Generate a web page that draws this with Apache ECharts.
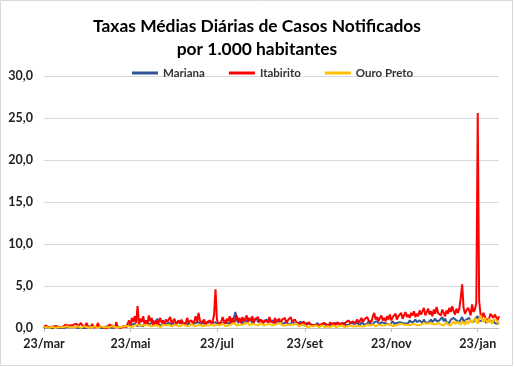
<!DOCTYPE html>
<html>
<head>
<meta charset="utf-8">
<script src="https://cdn.jsdelivr.net/npm/echarts@6/dist/echarts.min.js"></script>
<style>html,body{margin:0;padding:0;background:#fff}#c{width:514px;height:367px}</style>
</head>
<body>
<div id="c"></div>
<script>
const startDate = [2020, 3, 23];
const dayCount = 322;
const monthNames = ['jan','fev','mar','abr','mai','jun','jul','ago','set','out','nov','dez'];
const tickLabels = ['23/mar','23/mai','23/jul','23/set','23/nov','23/jan'];
const seriesNames = ['Mariana','Itabirito','Ouro Preto'];

const mariana = [
0.0,0.0,0.1,0.0,0.0,0.1,0.0,0.0,0.1,0.0,
0.0,0.1,0.0,0.1,0.0,0.0,0.1,0.0,0.1,0.0,
0.1,0.0,0.1,0.2,0.0,0.1,0.0,0.1,0.0,0.1,
0.0,0.1,0.2,0.0,0.1,0.0,0.1,0.0,0.2,0.1,
0.0,0.1,0.0,0.1,0.2,0.0,0.1,0.1,0.0,0.2,
0.1,0.0,0.2,0.1,0.0,0.1,0.2,0.0,0.1,0.2,
0.3,0.1,0.4,0.2,0.5,0.3,0.2,0.6,0.3,0.4,
0.2,0.5,0.3,0.8,0.4,0.3,0.6,0.9,0.5,0.3,
1.1,0.4,0.6,0.3,0.5,0.7,0.4,0.3,0.6,0.5,
0.4,0.7,0.3,0.5,0.6,0.4,0.8,0.5,0.3,0.6,
0.5,0.3,0.7,0.4,0.6,0.5,0.3,0.6,0.4,0.7,
0.5,0.4,0.8,0.5,0.3,0.6,0.4,0.7,0.5,0.6,
0.4,0.7,0.5,0.3,0.6,0.8,0.5,0.4,0.9,0.6,
0.8,0.5,1.0,0.7,1.2,1.9,1.0,0.6,0.9,0.7,
0.5,0.8,1.1,0.6,0.9,0.7,1.0,0.5,0.8,0.9,
1.2,0.7,0.6,0.9,0.5,0.8,0.6,1.0,0.7,0.5,
0.8,0.6,0.9,0.5,0.7,1.0,0.6,0.8,0.5,0.7,
0.6,0.9,0.5,0.7,0.4,0.8,0.6,0.5,0.7,0.4,
0.6,0.8,0.4,0.5,0.3,0.6,0.4,0.5,0.3,0.4,
0.5,0.3,0.4,0.6,0.3,0.5,0.4,0.2,0.5,0.3,
0.4,0.6,0.3,0.5,0.4,0.3,0.6,0.4,0.5,0.3,
0.5,0.4,0.6,0.3,0.5,0.4,0.3,0.6,0.4,0.5,
0.4,0.6,0.5,0.3,0.7,0.5,0.4,0.6,0.5,0.8,
0.5,0.6,0.4,0.7,0.5,0.8,0.6,0.4,0.7,0.5,
0.6,0.8,0.5,0.7,0.4,0.6,0.8,0.5,0.7,0.6,
0.5,0.7,0.9,0.6,0.8,0.5,0.7,0.6,0.9,0.7,
0.6,0.8,1.0,0.7,0.5,0.9,0.8,0.6,1.0,0.7,
0.9,0.6,0.8,1.0,0.7,0.9,1.1,0.8,0.6,0.9,
1.0,1.3,0.8,1.1,0.7,0.9,0.6,1.0,0.8,1.2,
1.3,0.9,1.1,0.7,1.0,1.3,0.8,0.6,1.0,0.9,
1.2,0.8,1.0,0.7,1.1,0.9,1.4,0.8,0.6,0.9,
0.7,1.0,0.6,0.8,1.1,0.7,0.5,0.9,0.6,0.8,0.5,0.7
];

const itabirito = [
0.0,0.3,0.1,0.1,0.2,0.1,0.1,0.2,0.1,0.2,
0.2,0.1,0.3,0.1,0.2,0.4,0.2,0.3,0.5,0.3,
0.2,0.4,0.6,0.5,0.2,0.3,0.6,0.3,0.1,0.2,
0.6,0.2,0.1,0.0,0.5,0.1,0.0,0.1,0.6,0.2,
0.0,0.1,0.0,0.0,0.1,0.0,0.4,0.6,0.3,0.1,
0.0,0.7,0.1,0.1,0.0,0.1,0.2,0.0,0.1,0.0,
0.9,0.3,1.2,0.7,1.4,0.6,2.6,0.5,1.1,0.7,
1.4,0.4,0.9,0.5,1.5,0.8,1.2,0.3,0.6,0.9,
0.3,0.2,1.2,0.6,0.9,0.4,1.0,0.7,0.5,1.3,
0.6,0.8,1.1,0.5,0.7,0.9,0.5,1.0,0.6,0.8,
0.5,1.2,0.7,0.6,0.9,0.5,0.8,1.4,0.7,1.8,
0.9,0.6,0.5,1.0,0.4,0.7,0.6,0.9,0.5,0.8,
1.6,4.6,1.0,0.5,0.4,0.7,1.3,0.8,0.5,1.1,
0.8,1.4,0.6,1.2,0.5,1.0,1.5,0.7,1.2,0.6,
1.3,0.8,1.1,1.5,0.7,1.2,0.9,1.4,0.6,1.1,
0.9,1.3,0.7,1.0,1.2,0.6,0.9,1.1,0.7,1.3,
0.8,1.0,0.6,1.2,0.7,0.9,1.1,0.5,1.0,0.8,
1.2,0.6,0.9,0.7,1.3,0.8,0.6,1.0,0.7,0.9,
0.5,0.7,0.4,0.8,0.6,0.3,0.5,0.7,0.4,0.6,
0.3,0.5,0.4,0.6,0.3,0.2,0.5,0.4,0.6,0.3,
0.5,0.4,0.7,0.3,0.6,0.5,0.4,0.7,0.5,0.3,
0.6,0.8,0.4,0.7,0.5,0.9,0.6,0.4,0.8,0.5,
0.7,1.0,0.6,0.9,1.2,0.7,1.0,0.8,1.3,0.9,
1.1,0.7,1.4,1.8,1.0,1.3,0.8,1.2,1.5,0.9,
1.2,0.8,1.4,1.0,1.6,0.9,1.3,1.1,1.7,1.0,
1.4,1.2,1.8,1.1,1.5,1.9,1.3,1.6,1.2,1.8,
1.5,2.0,1.3,1.7,1.4,2.1,1.6,1.8,2.4,1.5,
1.9,2.3,1.6,2.0,1.4,2.2,1.7,2.5,1.8,2.0,
1.5,2.2,1.8,1.4,2.1,1.7,2.4,1.9,2.6,2.0,
1.6,2.3,1.8,2.3,3.6,5.2,2.4,1.7,1.6,2.4,
2.1,1.5,2.8,1.9,2.2,3.0,25.6,3.2,1.6,1.2,
1.8,1.4,0.9,0.8,1.1,1.7,1.5,1.2,1.6,1.3,0.9,1.4
];

const ouroPreto = [
0.1,0.0,0.1,0.1,0.0,0.1,0.2,0.1,0.0,0.1,
0.1,0.2,0.1,0.0,0.1,0.1,0.2,0.1,0.1,0.0,
0.1,0.2,0.1,0.1,0.2,0.1,0.0,0.1,0.2,0.1,
0.1,0.0,0.1,0.2,0.1,0.1,0.2,0.1,0.0,0.1,
0.2,0.1,0.1,0.0,0.1,0.2,0.1,0.1,0.2,0.1,
0.1,0.2,0.1,0.0,0.1,0.1,0.2,0.1,0.2,0.1,
0.2,0.3,0.1,0.2,0.3,0.2,0.4,0.2,0.3,0.1,
0.3,0.2,0.4,0.2,0.3,0.1,0.2,0.4,0.3,0.2,
0.3,0.2,0.1,0.3,0.4,0.2,0.3,0.2,0.4,0.3,
0.2,0.3,0.4,0.2,0.3,0.5,0.2,0.3,0.4,0.2,
0.3,0.4,0.2,0.3,0.5,0.3,0.2,0.4,0.3,0.2,
0.4,0.3,0.2,0.4,0.3,0.5,0.3,0.2,0.4,0.3,
0.3,0.5,0.4,0.2,0.3,0.4,0.5,0.3,0.2,0.4,
0.3,0.5,0.4,0.3,0.6,0.4,0.3,0.5,0.4,0.3,
0.4,0.3,0.5,0.4,0.6,0.3,0.4,0.5,0.3,0.4,
0.5,0.3,0.4,0.6,0.4,0.3,0.5,0.4,0.3,0.5,
0.4,0.3,0.5,0.4,0.3,0.5,0.4,0.6,0.3,0.4,
0.3,0.5,0.4,0.3,0.4,0.2,0.4,0.3,0.5,0.3,
0.2,0.3,0.4,0.2,0.3,0.2,0.1,0.3,0.2,0.3,
0.2,0.1,0.3,0.2,0.1,0.2,0.3,0.2,0.1,0.2,
0.2,0.3,0.1,0.2,0.3,0.2,0.1,0.3,0.2,0.2,
0.3,0.2,0.1,0.3,0.2,0.2,0.3,0.1,0.2,0.3,
0.2,0.3,0.2,0.4,0.2,0.3,0.2,0.3,0.4,0.2,
0.3,0.2,0.4,0.3,0.2,0.3,0.4,0.2,0.3,0.4,
0.3,0.2,0.4,0.3,0.5,0.3,0.2,0.4,0.3,0.5,
0.4,0.3,0.5,0.3,0.4,0.2,0.4,0.5,0.3,0.4,
0.5,0.3,0.4,0.6,0.3,0.5,0.4,0.3,0.6,0.4,
0.5,0.3,0.6,0.4,0.5,0.7,0.4,0.3,0.6,0.5,
0.4,0.6,0.3,0.5,0.7,0.4,0.6,0.3,0.5,0.8,
0.5,0.3,0.7,0.5,0.4,0.8,0.6,0.4,0.9,0.5,
0.7,1.0,0.6,0.9,1.2,0.8,0.5,1.1,1.5,1.0,
0.7,1.2,0.9,0.6,1.1,0.8,0.5,0.9,0.7,1.0,0.6,0.5
];

const dates = [];
for (let i = 0; i < dayCount; i++) {
  const d = new Date(startDate[0], startDate[1] - 1, startDate[2] + i);
  dates.push(String(d.getDate()).padStart(2, '0') + '/' + monthNames[d.getMonth()]);
}
const showTick = (idx, val) => tickLabels.indexOf(val) >= 0;

const chart = echarts.init(document.getElementById('c'), null, {renderer: 'canvas'});
const font = 'Lato, "Open Sans", sans-serif';
chart.setOption({
  animation: false,
  backgroundColor: '#ffffff',
  graphic: [{type: 'rect', shape: {x: 0.5, y: 0.5, width: 512, height: 365}, style: {fill: 'none', stroke: '#d9d9d9', lineWidth: 1}, silent: true}],
  title: {
    text: 'Taxas Médias Diárias de Casos Notificados\npor 1.000 habitantes',
    left: 'center', top: 10,
    textStyle: {fontFamily: font, fontWeight: 'bold', fontSize: 17.4, lineHeight: 23, color: '#000'}
  },
  legend: {
    data: seriesNames, top: 62, left: 127,
    itemWidth: 26, itemHeight: 3, itemGap: 24, icon: 'rect',
    textStyle: {fontFamily: font, fontWeight: 'bold', fontSize: 11.5, color: '#333'}
  },
  grid: {left: 44, right: 15, top: 76, bottom: 39, containLabel: false},
  xAxis: {
    type: 'category', data: dates, boundaryGap: false,
    axisLine: {lineStyle: {color: '#bfbfbf'}},
    axisTick: {show: true, interval: showTick, length: 4, lineStyle: {color: '#bfbfbf'}},
    axisLabel: {interval: showTick, fontFamily: font, fontWeight: 'bold', fontSize: 12.5, color: '#222', margin: 9, showMinLabel: true},
    splitLine: {show: false}
  },
  yAxis: {
    type: 'value', min: 0, max: 30, interval: 5,
    axisLine: {show: false}, axisTick: {show: false},
    axisLabel: {formatter: v => v.toFixed(1).replace('.', ','), fontFamily: font, fontWeight: 'bold', fontSize: 12.5, color: '#222', margin: 11},
    splitLine: {lineStyle: {color: '#d9d9d9'}}
  },
  series: [
    {name: seriesNames[0], type: 'line', data: mariana, showSymbol: false, lineStyle: {width: 2, color: '#2f5597'}, itemStyle: {color: '#2f5597'}},
    {name: seriesNames[1], type: 'line', data: itabirito, showSymbol: false, lineStyle: {width: 2, color: '#ff0000'}, itemStyle: {color: '#ff0000'}},
    {name: seriesNames[2], type: 'line', data: ouroPreto, showSymbol: false, lineStyle: {width: 2, color: '#ffc000'}, itemStyle: {color: '#ffc000'}}
  ]
});
</script>
</body>
</html>
